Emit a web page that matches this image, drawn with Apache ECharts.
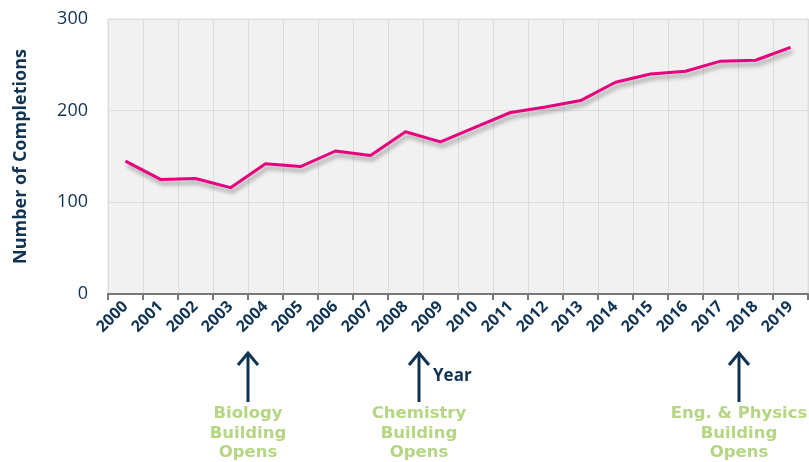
<!DOCTYPE html>
<html>
<head>
<meta charset="utf-8">
<script src="https://cdn.jsdelivr.net/npm/echarts@6/dist/echarts.min.js"></script>
<style>
  html, body { margin: 0; padding: 0; background: #fff; }
  #chart { width: 809px; height: 462px; }
</style>
</head>
<body>
<div id="chart"></div>
<script>
// 数据
const years = ['2000','2001','2002','2003','2004','2005','2006','2007','2008','2009',
  '2010','2011','2012','2013','2014','2015','2016','2017','2018','2019'];
const completions = [145, 125, 126, 116, 142, 139, 156, 151, 177, 166,
  182, 198, 204, 211, 231, 240, 243, 254, 255, 269];
const yTicks = [0, 100, 200, 300];
const milestones = [
  { x: 248, text: 'Biology\nBuilding\nOpens' },
  { x: 419, text: 'Chemistry\nBuilding\nOpens' },
  { x: 739, text: 'Eng. & Physics\nBuilding\nOpens' }
];

const navy = '#0f3352';
const green = '#b5d682';

let myEcharts = echarts.init(document.getElementById('chart'));

let graphics = [];
milestones.forEach(function (m) {
  // 箭头
  graphics.push({
    type: 'line',
    shape: { x1: m.x, y1: 354, x2: m.x, y2: 402 },
    style: { stroke: navy, lineWidth: 3 }
  });
  graphics.push({
    type: 'polyline',
    shape: { points: [[m.x - 10, 365], [m.x, 353], [m.x + 10, 365]] },
    style: { stroke: navy, lineWidth: 3, fill: null }
  });
  // 说明文字
  graphics.push({
    type: 'text',
    x: m.x,
    y: 404,
    style: {
      text: m.text,
      fill: green,
      font: 'bold 16.5px "DejaVu Sans"',
      textAlign: 'center',
      textVerticalAlign: 'top',
      lineHeight: 19.5
    }
  });
});
graphics.push({
  type: 'text',
  x: 433,
  y: 368,
  style: {
    text: 'Year',
    fill: navy,
    font: 'bold 17px "Open Sans"',
    textAlign: 'left',
    textVerticalAlign: 'top'
  }
});

let option = {
  animation: false,
  grid: {
    left: 108,
    right: 1,
    top: 19,
    bottom: 168,
    show: true,
    backgroundColor: '#f1f1f1',
    borderColor: '#e0e0e0',
    borderWidth: 1
  },
  xAxis: {
    type: 'category',
    data: years,
    boundaryGap: true,
    axisLine: { lineStyle: { color: '#777', width: 2 } },
    axisTick: { show: true, length: 6, interval: 0, lineStyle: { color: '#777', width: 2 } },
    axisLabel: {
      interval: 0,
      rotate: 45,
      margin: 10,
      color: navy,
      fontWeight: 'bold',
      fontSize: 16,
      fontFamily: 'Open Sans'
    },
    splitLine: { show: true, interval: 0, lineStyle: { color: '#dcdcdc', width: 1 } }
  },
  yAxis: {
    type: 'value',
    min: yTicks[0],
    max: yTicks[yTicks.length - 1],
    interval: 100,
    name: 'Number of Completions',
    nameLocation: 'middle',
    nameGap: 78,
    nameTextStyle: { color: navy, fontWeight: 'bold', fontSize: 18, fontFamily: 'Open Sans' },
    axisLine: { show: false },
    axisTick: { show: false },
    axisLabel: { color: navy, fontSize: 18, margin: 20, fontFamily: 'Open Sans' },
    splitLine: { lineStyle: { color: '#dcdcdc', width: 1 } }
  },
  series: [{
    type: 'line',
    data: completions,
    symbol: 'none',
    lineStyle: {
      color: '#e6007e',
      width: 3,
      shadowColor: 'rgba(0,0,0,0.35)',
      shadowBlur: 4,
      shadowOffsetX: 2,
      shadowOffsetY: 4
    }
  }],
  graphic: graphics
};
myEcharts.setOption(option);
</script>
</body>
</html>
